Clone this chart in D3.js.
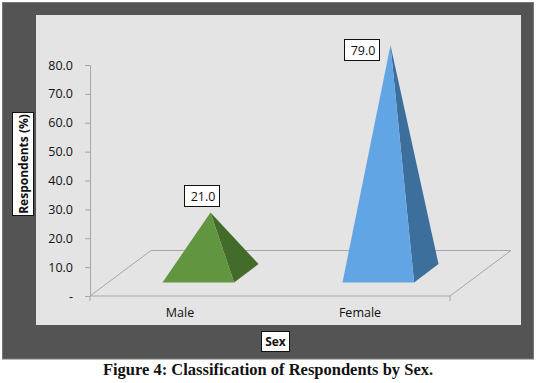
<!DOCTYPE html>
<html><head><meta charset="utf-8">
<script src="https://cdn.jsdelivr.net/npm/d3@7"></script>
<style>html,body{margin:0;padding:0;background:#fff}svg{display:block}text{font-family:"Open Sans",sans-serif;fill:#111}</style>
</head><body><svg id="c" width="538" height="383"></svg>
<script>
const categories = ["Male", "Female"];
const values = [21.0, 79.0];
const yTicks = [0, 10, 20, 30, 40, 50, 60, 70, 80];
const frontColors = ["#629540", "#62a5e4"];
const sideColors = ["#436b2a", "#3d6f9c"];

const svg = d3.select("#c");
const depthX = 61, depthY = -45.5;
const x = d3.scaleBand().domain(categories).range([90, 450]);
const y = d3.scaleLinear().domain([0, 80]).range([296, 65]);

svg.append("rect").attr("x",2.5).attr("y",2.5).attr("width",531).attr("height",356.5).attr("fill","#545454").attr("stroke","#777").attr("stroke-width",1);
svg.append("rect").attr("x",36).attr("y",15).attr("width",485).attr("height",310).attr("fill","#e4e4e4");

const y0 = y(0), xL = x.range()[0], xR = x.range()[1];
svg.append("polygon")
  .attr("points",[[xL,y0],[xL+depthX,y0+depthY],[xR+depthX,y0+depthY],[xR,y0]].join(" "))
  .attr("fill","#e4e4e4").attr("stroke","#a6a6a6").attr("stroke-width",1);

const yAxis = d3.axisLeft(y).tickValues(yTicks).tickSize(5).tickPadding(12)
  .tickFormat(d => d === 0 ? "-" : d3.format(".1f")(d));
const ga = svg.append("g").attr("transform",`translate(${xL},0)`).call(yAxis);
ga.selectAll("path,line").attr("stroke","#a6a6a6");
ga.selectAll("text").attr("font-size",12.5).attr("fill","#111");

const xAxis = d3.axisBottom(x).tickSize(0).tickPadding(12);
const gx = svg.append("g").attr("transform",`translate(0,${y0})`).call(xAxis);
gx.select("path").remove();
gx.selectAll("text").attr("font-size",12.5).attr("fill","#111");
[xL,xR].forEach(px => svg.append("line").attr("x1",px).attr("x2",px).attr("y1",y0).attr("y2",y0+5).attr("stroke","#a6a6a6"));

const halfW = 35.8, dx = 24.4, dy = -18.4;
const labelShift = [[-26.5, -27.5], [-47, -6]];
categories.forEach((c,i) => {
  const cx = x(c) + x.bandwidth()/2 + depthX/2;
  const cy = y0 + depthY/2;
  const ax = cx, ay = y(values[i]) + depthY/2;
  const fl = [cx-dx/2-halfW, cy-dy/2], fr = [cx-dx/2+halfW, cy-dy/2], br = [fr[0]+dx, fr[1]+dy];
  svg.append("polygon").attr("points",[fr,br,[ax,ay]].join(" ")).attr("fill",sideColors[i]);
  svg.append("polygon").attr("points",[fl,fr,[ax,ay]].join(" ")).attr("fill",frontColors[i]);
  const bw = 35, bh = 21;
  const bx = Math.round(ax + labelShift[i][0]) + 0.5, by = Math.round(ay + labelShift[i][1]) + 0.5;
  svg.append("rect").attr("x",bx).attr("y",by).attr("width",bw).attr("height",bh).attr("fill","#fff").attr("stroke","#111");
  svg.append("text").attr("x",bx+bw/2+1).attr("y",by+bh/2+4.5).attr("text-anchor","middle").attr("font-size",12.5).text(d3.format(".1f")(values[i]));
});

svg.append("rect").attr("x",12.5).attr("y",112.5).attr("width",21).attr("height",103).attr("fill","#fff").attr("stroke","#111");
svg.append("text").attr("transform","translate(27.5,164) rotate(-90)").attr("text-anchor","middle").attr("font-size",12).attr("font-weight",700).text("Respondents (%)");
svg.append("rect").attr("x",261.5).attr("y",331.5).attr("width",28).attr("height",20).attr("fill","#fff").attr("stroke","#111");
svg.append("text").attr("x",275.5).attr("y",346).attr("text-anchor","middle").attr("font-size",12).attr("font-weight",700).text("Sex");
svg.append("text").attr("x",268).attr("y",375).attr("text-anchor","middle").attr("font-size",16.5).attr("font-weight",700)
  .style("font-family","'Liberation Serif',serif").text("Figure 4: Classification of Respondents by Sex.");
</script></body></html>
